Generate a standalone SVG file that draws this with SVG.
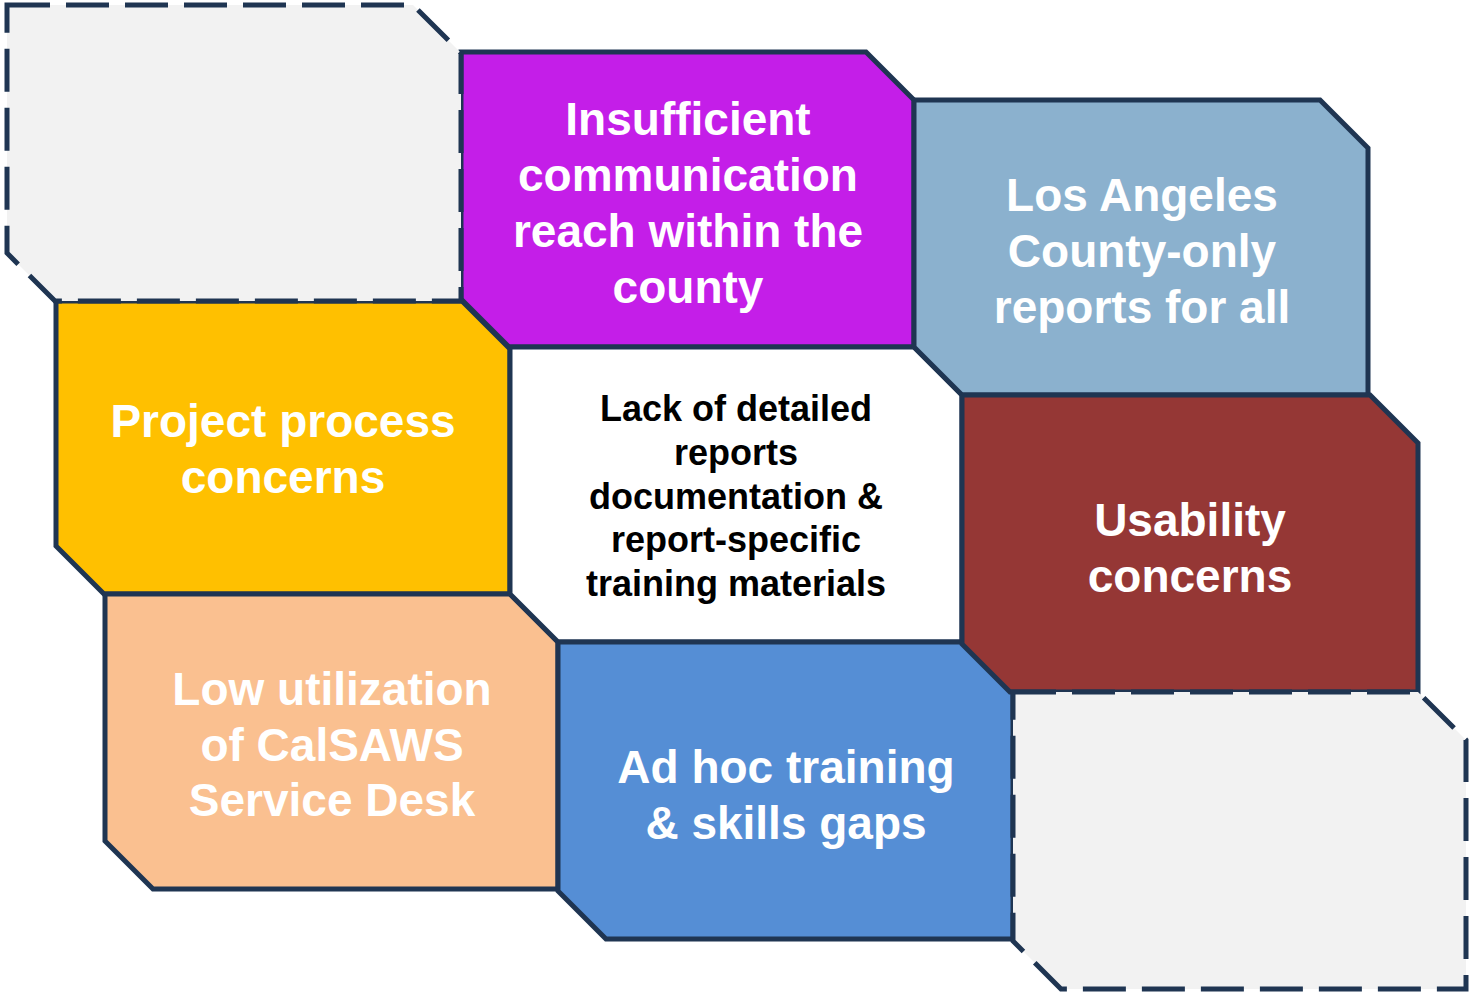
<svg xmlns="http://www.w3.org/2000/svg" width="1474" height="995" viewBox="0 0 1474 995">
<style>
.box{stroke:#1F3552;stroke-width:5;stroke-linejoin:miter}
.dash{fill:#F2F2F2;stroke:#1F3552;stroke-width:5;stroke-dasharray:43 16}
.t{font-family:"Liberation Sans",Arial,sans-serif;font-weight:bold;font-size:46px;fill:#FFFFFF;text-anchor:middle}
.c{font-family:"Liberation Sans",Arial,sans-serif;font-weight:bold;font-size:36px;fill:#000000;text-anchor:middle}
</style>
<rect width="1474" height="995" fill="#FFFFFF"/>
<g id="connectors"></g>
<g id="node-yellow">
<polygon class="box" fill="#FFC000" points="56,301 462,301 510,349 510,594 104,594 56,546"/>
<text class="t" x="283" y="437">Project process</text>
<text class="t" x="283" y="493">concerns</text>
</g>
<g id="node-peach">
<polygon class="box" fill="#FAC090" points="105,594 510,594 558,642 558,889 153,889 105,841"/>
<text class="t" x="332" y="705">Low utilization</text>
<text class="t" x="332" y="761">of CalSAWS</text>
<text class="t" x="332" y="816">Service Desk</text>
</g>
<g id="node-purple">
<polygon class="box" fill="#C41EE8" points="461,52 866,52 914,100 914,347 509,347 461,299"/>
<text class="t" x="688" y="135">Insufficient</text>
<text class="t" x="688" y="191">communication</text>
<text class="t" x="688" y="247">reach within the</text>
<text class="t" x="688" y="303">county</text>
</g>
<g id="node-center">
<polygon class="box" fill="#FFFFFF" points="510,347 914,347 962,395 962,642 558,642 510,594"/>
<text class="c" x="736" y="421">Lack of detailed</text>
<text class="c" x="736" y="465">reports</text>
<text class="c" x="736" y="509">documentation &amp;</text>
<text class="c" x="736" y="552">report-specific</text>
<text class="c" x="736" y="596">training materials</text>
</g>
<g id="node-blue">
<polygon class="box" fill="#558ED5" points="558,642 965,642 1013,690 1013,939 606,939 558,891"/>
<text class="t" x="786" y="783">Ad hoc training</text>
<text class="t" x="786" y="839">&amp; skills gaps</text>
</g>
<g id="node-lightblue">
<polygon class="box" fill="#8BB1CE" points="914,100 1320,100 1368,148 1368,395 962,395 914,347"/>
<text class="t" x="1142" y="211">Los Angeles</text>
<text class="t" x="1142" y="267">County-only</text>
<text class="t" x="1142" y="323">reports for all</text>
</g>
<g id="node-red">
<polygon class="box" fill="#953735" points="962,395 1370,395 1418,443 1418,692 1010,692 962,644"/>
<text class="t" x="1190" y="536">Usability</text>
<text class="t" x="1190" y="592">concerns</text>
</g>
<g id="node-empty-top">
<polygon class="dash" points="7,5 413,5 461,53 461,301 55,301 7,253"/>
</g>
<g id="node-empty-bottom">
<polygon class="dash" points="1013,692 1418,692 1466,740 1466,989 1061,989 1013,941"/>
</g>
</svg>
